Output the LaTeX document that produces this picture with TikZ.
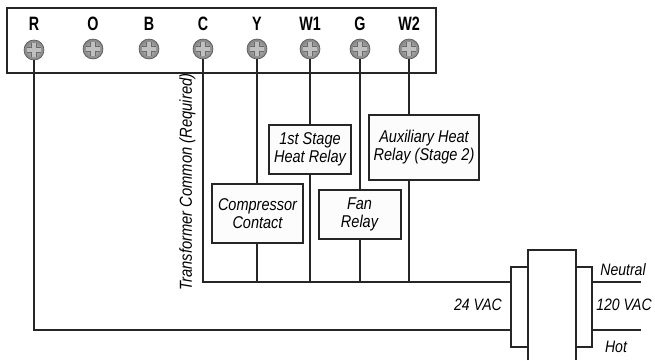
\documentclass[tikz,border=0pt]{standalone}
\usepackage{fontspec}
\setmainfont{Liberation Sans}
\newfontfamily\narrowfont[FakeStretch=0.85]{Liberation Sans}
\newfontfamily\termfont[FakeStretch=0.74]{Liberation Sans}
\usetikzlibrary{calc}
\begin{document}
\begin{tikzpicture}[x=0.75pt,y=-0.75pt]
\useasboundingbox (0,0) rectangle (655,360);
\tikzstyle{wire}=[line width=1.5pt,black!85]
\tikzstyle{termlabel}=[font=\termfont\bfseries\fontsize{14.5}{15}\selectfont,inner sep=0pt]
\tikzstyle{termscrew}=[circle,minimum size=15pt,inner sep=0pt,draw=black!65,line width=0.5pt,inner color=black!25,outer color=black!48,
  path picture={
    \draw[black!58,line width=3.8pt] ($(path picture bounding box.center)+(-5.5pt,0)$) -- ($(path picture bounding box.center)+(5.5pt,0)$);
    \draw[black!58,line width=3.8pt] ($(path picture bounding box.center)+(0,-5.5pt)$) -- ($(path picture bounding box.center)+(0,5.5pt)$);
    \draw[black!25,line width=2.6pt] ($(path picture bounding box.center)+(-5pt,0)$) -- ($(path picture bounding box.center)+(5pt,0)$);
    \draw[black!25,line width=2.6pt] ($(path picture bounding box.center)+(0,-5pt)$) -- ($(path picture bounding box.center)+(0,5pt)$);
  }]
\tikzstyle{relay}=[draw=black!85,fill=black!1,line width=1.5pt,align=center,inner sep=0pt,font=\narrowfont\itshape\fontsize{12.8}{13.5}\selectfont]
\tikzstyle{coil}=[draw=black!85,line width=1.5pt,inner sep=0pt,minimum width=12.6pt,minimum height=60pt]
\tikzstyle{note}=[inner sep=0pt,font=\narrowfont\itshape\fontsize{12.4}{14}\selectfont]
% thermostat board
\node [draw=black!85,line width=1.5pt,minimum width=321.75pt,minimum height=48.75pt,inner sep=0pt] (board) at (221.5,40.5) {};
\foreach \name/\xpos/\ypos in {R/34/50,O/93/49,B/149/49,C/203/49,Y/257/49,W1/310/49,G/360/49,W2/409/49} {
    \node [termlabel] (label\name) at (\xpos,24) {\name};
    \node [termscrew] (screw\name) at (\xpos,\ypos) {};
}
% relays
\node [relay,minimum width=68.25pt,minimum height=44.25pt] (compressor) at (257.5,213.5) {Compressor\\Contact};
\node [relay,minimum width=61.5pt,minimum height=36.75pt] (stage1) at (310,149.5) {1st Stage\\Heat Relay};
\node [relay,minimum width=61.5pt,minimum height=36.75pt] (fan) at (359.5,214.5) {Fan\\Relay};
\node [relay,minimum width=82.5pt,minimum height=48.75pt] (aux) at (424,147.5) {Auxiliary Heat\\Relay (Stage 2)};
% transformer
\node [coil] (coilL) at (519.5,307) {};
\node [coil] (coilR) at (584,307) {};
\coordinate (coreA) at (527.5,360);
\coordinate (coreB) at (527.5,250);
\coordinate (coreC) at (576,250);
\coordinate (coreD) at (576,360);
\coordinate (neutral) at (641,282);
\coordinate (hot) at (641,330);
\draw [wire] (coreA) -- (coreB) -- (coreC) -- (coreD);
\draw [wire] (coilR.east |- neutral) -- (neutral);
\draw [wire] (coilR.east |- hot) -- (hot);
% wires
\draw [wire] (screwC.south) |- (coilL.west |- neutral);
\draw [wire] (screwR.south) |- (coilL.west |- hot);
\draw [wire] (screwY.south) -- (screwY |- compressor.north);
\draw [wire] (screwY |- compressor.south) -- (screwY |- neutral);
\draw [wire] (screwW1.south) -- (screwW1 |- stage1.north);
\draw [wire] (screwW1 |- stage1.south) -- (screwW1 |- neutral);
\draw [wire] (screwG.south) -- (screwG |- fan.north);
\draw [wire] (screwG |- fan.south) -- (screwG |- neutral);
\draw [wire] (screwW2.south) -- (screwW2 |- aux.north);
\draw [wire] (screwW2 |- aux.south) -- (screwW2 |- neutral);
% labels
\node [note,rotate=90,font=\narrowfont\itshape\fontsize{13}{14}\selectfont] (common) at (187.5,182) {Transformer Common (Required)};
\node [note] (vac24) at (478,305) {24 VAC};
\node [note] (vac120) at (624,305) {120 VAC};
\node [note] (neutrallabel) at (623,270) {Neutral};
\node [note] (hotlabel) at (616,347) {Hot};
\end{tikzpicture}
\end{document}
